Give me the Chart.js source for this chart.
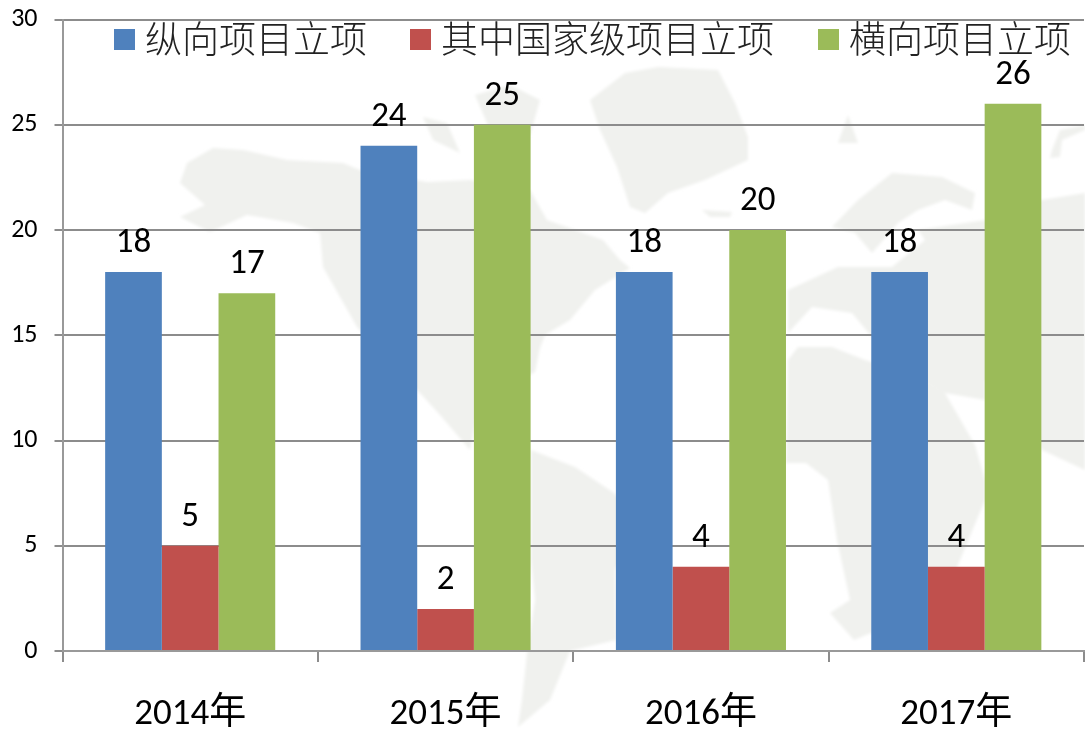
<!DOCTYPE html>
<html><head><meta charset="utf-8">
<style>html,body{margin:0;padding:0;background:#fff;overflow:hidden}#w{position:relative;width:1085px;height:729px}canvas,svg{position:absolute;left:0;top:0}</style>
<script src="https://cdn.jsdelivr.net/npm/chart.js@4"></script></head>
<body><div id="w">
<svg width="1085" height="729" viewBox="0 0 1085 729" aria-hidden="true">
<defs><filter id="b"><feGaussianBlur stdDeviation="1.5"/></filter></defs>
<g fill="#F0F1EE" filter="url(#b)">
<path d="M180,183 187,163 213,148 243,150 287,160 343,163 360,170 427,182 470,180 530,190 547,220 603,240 620,260 630,268 595,290 570,320 545,335 540,348 535,372 480,400 470,450 440,415 420,393 357,327 323,267 320,233 293,223 247,215 210,232 180,217 205,205 Z"/>
<path d="M531,450 575,467 614,493 640,520 615,570 616,640 570,651 550,700 518,727 522,700 527,653 535,600 531,560 Z"/>
<path d="M423,117 447,123 460,153 433,140 Z"/>
<path d="M475,95 510,85 540,100 530,135 490,130 Z"/>
<path d="M625,73 658,67 718,70 735,103 748,137 748,160 705,180 668,193 645,213 630,207 617,167 600,130 590,100 Z"/>
<path d="M702,210 732,212 730,217 710,217 Z"/>
<path d="M848,115 858,143 838,143 Z"/>
<path d="M1052,150 1060,130 1085,125 1085,130 1062,140 1060,157 1050,158 Z"/>
<path d="M832,227 858,200 892,173 942,177 975,193 972,210 945,200 918,210 898,223 872,253 855,233 Z"/>
<path d="M1042,200 1085,193 1085,470 1042,450 1020,400 985,380 985,400 945,393 918,377 880,345 900,330 872,337 852,313 812,307 788,333 788,290 838,267 892,267 925,240 918,230 985,220 Z"/>
<path d="M788,360 798,347 832,347 865,360 918,377 945,393 975,445 985,480 985,500 960,560 928,640 871,633 854,640 830,613 850,600 837,540 828,480 806,463 786,463 Z"/>
</g></svg>
<canvas id="c" width="1085" height="729"></canvas></div>
<script>
const categories=['2014年','2015年','2016年','2017年'];
const seriesNames=['纵向项目立项','其中国家级项目立项','横向项目立项'];
const vertical=[18,24,18,18];
const national=[5,2,4,4];
const horizontal=[17,25,20,26];
const yTicks=[0,5,10,15,20,25,30];
const colors=['#4F81BD','#C0504D','#9BBB59'];
const latin='Carlito,"Noto Sans CJK SC",sans-serif';
const legendX=[114,410,818];
const labels={id:'labels',afterDatasetsDraw(ch){const c=ch.ctx;c.save();c.fillStyle='#000';c.font='35px '+latin;c.textAlign='center';c.textBaseline='alphabetic';
ch.data.datasets.forEach((d,i)=>{ch.getDatasetMeta(i).data.forEach((b,j)=>{c.fillText(d.data[j],b.x,b.y-20)})});
c.font='300 37px "Noto Sans CJK SC",sans-serif';c.textAlign='left';c.textBaseline='middle';
ch.data.datasets.forEach((d,i)=>{c.fillStyle=d.backgroundColor;c.fillRect(legendX[i],29,21,21);c.fillStyle='#222';c.fillText(d.label,legendX[i]+31,39)});
c.restore();}};
new Chart(document.getElementById('c'),{type:'bar',
data:{labels:categories,datasets:[vertical,national,horizontal].map((d,i)=>({label:seriesNames[i],data:d,backgroundColor:colors[i],categoryPercentage:0.666,barPercentage:1}))},
plugins:[labels],
options:{responsive:false,animation:false,
layout:{padding:{left:0,right:1,top:19.5,bottom:0}},
plugins:{tooltip:{enabled:false},legend:{display:false}},
scales:{x:{afterFit(a){a.height=78;a.paddingLeft=0;a.paddingRight=0},grid:{drawOnChartArea:false,color:'#8C8C8C',lineWidth:2,tickLength:11,offset:true},border:{color:'#999',width:2},ticks:{font:{size:37,family:latin},color:'#000',padding:31,maxRotation:0}},
y:{min:0,max:30,afterFit(a){a.width=62.5;a.paddingTop=0;a.paddingBottom=0},afterBuildTicks(a){a.ticks=yTicks.map(v=>({value:v}))},grid:{color:'#8C8C8C',lineWidth:2,tickLength:8},border:{color:'#999',width:2},ticks:{font:{size:26,family:latin},color:'#000',padding:17}}}}});
</script></body></html>
